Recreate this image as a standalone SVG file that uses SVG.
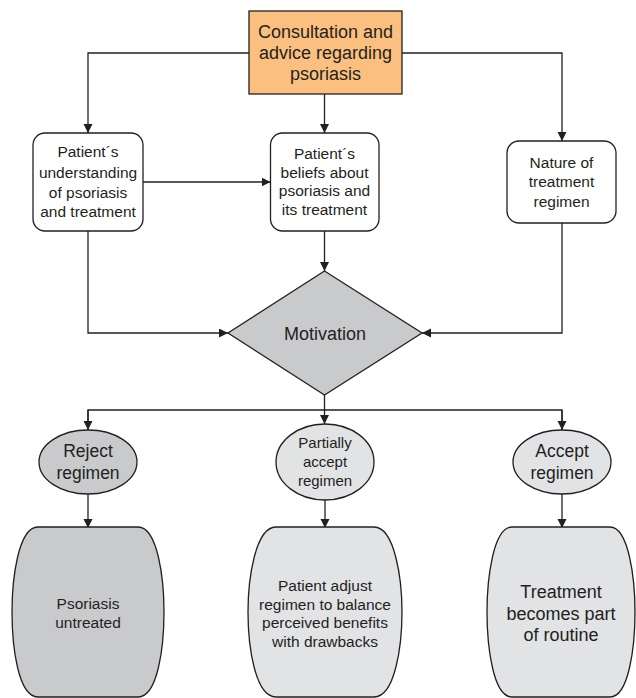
<svg xmlns="http://www.w3.org/2000/svg" width="636" height="698" viewBox="0 0 636 698">
<defs>
<marker id="ah" markerWidth="10" markerHeight="10" refX="9" refY="4.5" orient="auto" markerUnits="userSpaceOnUse">
<path d="M0,0 L9,4.5 L0,9 Z" fill="#231f20"/>
</marker>
<style>
.t{font-family:"Liberation Sans",Arial,sans-serif;fill:#231f20;text-anchor:middle}
.s{stroke:#231f20;stroke-width:1.3}
.c{fill:none;stroke:#231f20;stroke-width:1.3;marker-end:url(#ah)}
.l{fill:none;stroke:#231f20;stroke-width:1.3}
</style>
</defs>
<rect width="636" height="698" fill="#ffffff"/>
<g id="connectors">
<path class="c" d="M249,53 H88 V133"/>
<path class="c" d="M402,53 H562 V141"/>
<path class="c" d="M324.5,94 V133"/>
<path class="c" d="M143,182 H270.5"/>
<path class="c" d="M88,231 V333 H228"/>
<path class="c" d="M324.5,231 V271"/>
<path class="c" d="M562,223 V333 H422"/>
<path class="c" d="M324.5,395 V424"/>
<path class="l" d="M88,430 V410 H562 V430"/>
<path class="c" d="M88,410 V430"/>
<path class="c" d="M562,410 V430"/>
<path class="c" d="M88,494 V528"/>
<path class="c" d="M325,500 V528"/>
<path class="c" d="M562,494 V528"/>
</g>
<g id="consultation">
<rect class="s" x="249" y="11" width="153" height="83" fill="#fbc07f"/>
<text class="t" font-size="18" x="325.5" y="38">Consultation and</text>
<text class="t" font-size="18" x="325.5" y="59">advice regarding</text>
<text class="t" font-size="18" x="325.5" y="80">psoriasis</text>
</g>
<g id="understanding">
<rect class="s" x="33" y="133" width="110" height="98" rx="12" fill="#ffffff"/>
<text class="t" font-size="15.5" x="88" y="157">Patient´s</text>
<text class="t" font-size="15.5" x="88" y="178">understanding</text>
<text class="t" font-size="15.5" x="88" y="198">of psoriasis</text>
<text class="t" font-size="15.5" x="88" y="217">and treatment</text>
</g>
<g id="beliefs">
<rect class="s" x="270.5" y="133" width="108.5" height="98" rx="12" fill="#ffffff"/>
<text class="t" font-size="15.5" x="324.5" y="159">Patient´s</text>
<text class="t" font-size="15.5" x="324.5" y="178">beliefs about</text>
<text class="t" font-size="15.5" x="324.5" y="196">psoriasis and</text>
<text class="t" font-size="15.5" x="324.5" y="215">its treatment</text>
</g>
<g id="nature">
<rect class="s" x="507" y="141" width="109" height="82" rx="12" fill="#ffffff"/>
<text class="t" font-size="15.5" x="561.5" y="168">Nature of</text>
<text class="t" font-size="15.5" x="561.5" y="187">treatment</text>
<text class="t" font-size="15.5" x="561.5" y="207">regimen</text>
</g>
<g id="motivation">
<path class="s" d="M324.5,271 L422,333 L324.5,395 L228,333 Z" fill="#c9cacc"/>
<text class="t" font-size="18" x="325" y="339.5">Motivation</text>
</g>
<g id="reject">
<ellipse class="s" cx="88" cy="462" rx="49" ry="32" fill="#c9cacc"/>
<text class="t" font-size="17.5" x="88" y="457">Reject</text>
<text class="t" font-size="17.5" x="88" y="479">regimen</text>
</g>
<g id="partially">
<ellipse class="s" cx="325" cy="462" rx="49" ry="38" fill="#e2e3e5"/>
<text class="t" font-size="15" x="325" y="448">Partially</text>
<text class="t" font-size="15" x="325" y="467">accept</text>
<text class="t" font-size="15" x="325" y="486">regimen</text>
</g>
<g id="accept">
<ellipse class="s" cx="562" cy="462" rx="49" ry="32" fill="#e2e3e5"/>
<text class="t" font-size="17.5" x="562" y="457">Accept</text>
<text class="t" font-size="17.5" x="562" y="479">regimen</text>
</g>
<g id="untreated">
<path class="s" fill="#c9cacc" d="M38,527 H138 C158,527 164,580 164,612 C164,646 158,697 138,697 H38 C18,697 12,646 12,612 C12,580 18,527 38,527 Z"/>
<text class="t" font-size="15.5" x="88" y="609">Psoriasis</text>
<text class="t" font-size="15.5" x="88" y="627.5">untreated</text>
</g>
<g id="adjust">
<path class="s" fill="#e2e3e5" d="M276,527 H374 C395,527 402,580 402,612 C402,646 395,697 374,697 H276 C255,697 248,646 248,612 C248,580 255,527 276,527 Z"/>
<text class="t" font-size="15.5" x="325" y="590.5">Patient adjust</text>
<text class="t" font-size="15.5" x="325" y="609.5">regimen to balance</text>
<text class="t" font-size="15.5" x="325" y="628">perceived benefits</text>
<text class="t" font-size="15.5" x="325" y="646.5">with drawbacks</text>
</g>
<g id="routine">
<path class="s" fill="#e2e3e5" d="M512,527 H610 C629,527 635,580 635,612 C635,646 629,697 610,697 H512 C493,697 487,646 487,612 C487,580 493,527 512,527 Z"/>
<text class="t" font-size="18" x="561" y="598">Treatment</text>
<text class="t" font-size="18" x="561" y="619.5">becomes part</text>
<text class="t" font-size="18" x="561" y="641">of routine</text>
</g>
</svg>
